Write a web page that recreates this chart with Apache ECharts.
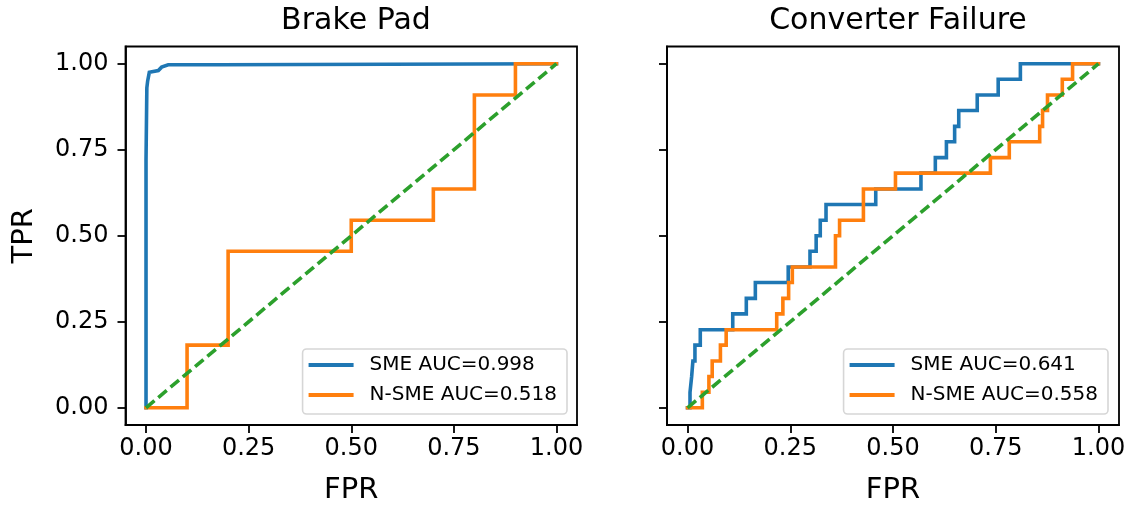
<!DOCTYPE html>
<html>
<head>
<meta charset="utf-8">
<script src="https://cdn.jsdelivr.net/npm/echarts@6/dist/echarts.min.js"></script>
<style>
html,body{margin:0;padding:0;background:#fff;}
#chart{width:1129px;height:506px;}
</style>
</head>
<body>
<div id="chart"></div>
<script>
// ---- Data ----
const panelTitles = ['Brake Pad', 'Converter Failure'];
const tickValues = [0, 0.25, 0.5, 0.75, 1.0];
const tickLabels = ['0.00', '0.25', '0.50', '0.75', '1.00'];

// Brake Pad - SME (AUC=0.998)
const brakeSmeFpr = [0, 0, 0.002, 0.002, 0.004, 0.008, 0.008, 0.030, 0.038, 0.054, 0.180, 0.180, 1];
const brakeSmeTpr = [0, 0.72, 0.72, 0.93, 0.95, 0.975, 0.98, 0.98, 0.99, 0.997, 0.997, 1, 1];
// Brake Pad - N-SME (AUC=0.518)
const brakeNsmeFpr = [0, 0.1, 0.1, 0.2, 0.2, 0.5, 0.5, 0.7, 0.7, 0.8, 0.8, 0.9, 0.9, 1];
const brakeNsmeTpr = [0, 0, 0.182, 0.182, 0.455, 0.455, 0.545, 0.545, 0.636, 0.636, 0.909, 0.909, 1, 1];

// Converter Failure - SME (AUC=0.641)
const convSmeFpr = [0, 0.006, 0.006, 0.010, 0.010, 0.013, 0.013, 0.018, 0.018, 0.031, 0.031, 0.110, 0.110, 0.143, 0.143, 0.165, 0.165, 0.245, 0.245, 0.298, 0.298, 0.313, 0.313, 0.323, 0.323, 0.337, 0.337, 0.458, 0.458, 0.568, 0.568, 0.603, 0.603, 0.630, 0.630, 0.650, 0.650, 0.660, 0.660, 0.705, 0.705, 0.756, 0.756, 0.810, 0.810, 1];
const convSmeTpr = [0, 0, 0.045, 0.045, 0.091, 0.091, 0.136, 0.136, 0.182, 0.182, 0.227, 0.227, 0.273, 0.273, 0.318, 0.318, 0.364, 0.364, 0.409, 0.409, 0.455, 0.455, 0.5, 0.5, 0.545, 0.545, 0.591, 0.591, 0.636, 0.636, 0.682, 0.682, 0.727, 0.727, 0.773, 0.773, 0.818, 0.818, 0.864, 0.864, 0.909, 0.909, 0.955, 0.955, 1, 1];
// Converter Failure - N-SME (AUC=0.558)
const convNsmeFpr = [0, 0.036, 0.036, 0.052, 0.052, 0.060, 0.060, 0.080, 0.080, 0.094, 0.094, 0.217, 0.217, 0.232, 0.232, 0.246, 0.246, 0.255, 0.255, 0.360, 0.360, 0.370, 0.370, 0.428, 0.428, 0.506, 0.506, 0.737, 0.737, 0.783, 0.783, 0.857, 0.857, 0.864, 0.864, 0.876, 0.876, 0.912, 0.912, 0.937, 0.937, 1];
const convNsmeTpr = [0, 0, 0.045, 0.045, 0.091, 0.091, 0.136, 0.136, 0.182, 0.182, 0.227, 0.227, 0.273, 0.273, 0.318, 0.318, 0.364, 0.364, 0.409, 0.409, 0.5, 0.5, 0.545, 0.545, 0.636, 0.636, 0.682, 0.682, 0.727, 0.727, 0.773, 0.773, 0.818, 0.818, 0.864, 0.864, 0.909, 0.909, 0.955, 0.955, 1, 1];

// Chance diagonal
const diagFpr = [0, 1];
const diagTpr = [0, 1];

const seriesNames = [
  ['SME AUC=0.998', 'N-SME AUC=0.518'],
  ['SME AUC=0.641', 'N-SME AUC=0.558']
];

// ---- Build ----
const FONT = 'DejaVu Sans';
const zip = (a, b) => a.map((v, i) => [v, b[i]]);
const C_BLUE = '#1f77b4', C_ORANGE = '#ff7f0e', C_GREEN = '#2ca02c';
const LW = 3.6;

const grids = [
  {left: 125.5, top: 46.5, width: 451.5, height: 378.5},
  {left: 667, top: 46.5, width: 452, height: 378.5}
];

const fmt = v => tickLabels[tickValues.findIndex(t => Math.abs(t - v) < 1e-9)] ?? '';

function xAxis(idx) {
  return {
    type: 'value', gridIndex: idx, min: -0.05, max: 1.05,
    name: 'FPR', nameLocation: 'middle', nameGap: 51,
    nameTextStyle: {fontFamily: FONT, fontSize: 29, color: '#000'},
    axisLine: {show: true, onZero: false, lineStyle: {color: '#000', width: 1.8}},
    axisTick: {show: true, length: 8, customValues: tickValues, lineStyle: {color: '#000', width: 1.8}},
    axisLabel: {show: true, margin: 12, customValues: tickValues, formatter: fmt,
      fontFamily: FONT, fontSize: 24, color: '#000'},
    splitLine: {show: false}
  };
}
function yAxis(idx, showLabels) {
  return {
    type: 'value', gridIndex: idx, min: -0.05, max: 1.05,
    name: showLabels ? 'TPR' : '', nameLocation: 'middle', nameGap: 87,
    nameTextStyle: {fontFamily: FONT, fontSize: 29, color: '#000'},
    axisLine: {show: true, onZero: false, lineStyle: {color: '#000', width: 1.8}},
    axisTick: {show: true, length: 8, customValues: tickValues, lineStyle: {color: '#000', width: 1.8}},
    axisLabel: {show: showLabels, margin: 17, customValues: tickValues, formatter: fmt,
      fontFamily: FONT, fontSize: 24, color: '#000'},
    splitLine: {show: false}
  };
}
function lineSeries(name, idx, data, color, dashed) {
  return {
    type: 'line', name: name, xAxisIndex: idx, yAxisIndex: idx,
    data: data, showSymbol: false, symbol: 'none', silent: true,
    lineStyle: {color: color, width: LW, type: dashed ? [11, 5] : 'solid', join: 'miter', cap: dashed ? 'butt' : 'square'},
    itemStyle: {color: color},
    z: dashed ? 4 : 3
  };
}

const series = [
  lineSeries(seriesNames[0][0], 0, zip(brakeSmeFpr, brakeSmeTpr), C_BLUE, false),
  lineSeries(seriesNames[0][1], 0, zip(brakeNsmeFpr, brakeNsmeTpr), C_ORANGE, false),
  lineSeries('diag0', 0, zip(diagFpr, diagTpr), C_GREEN, true),
  lineSeries(seriesNames[1][0], 1, zip(convSmeFpr, convSmeTpr), C_BLUE, false),
  lineSeries(seriesNames[1][1], 1, zip(convNsmeFpr, convNsmeTpr), C_ORANGE, false),
  lineSeries('diag1', 1, zip(diagFpr, diagTpr), C_GREEN, true)
];

// legend icon: 45px line segment followed by blank space before the label
const legendIcon = 'path://M0,0H45V4H0Z M55.99,0H56V0.01Z';

function legend(idx, right) {
  return {
    data: seriesNames[idx], orient: 'vertical', right: right, top: 349,
    icon: legendIcon, itemWidth: 56, itemHeight: 4, itemGap: 10,
    padding: [6, 10, 9, 6],
    backgroundColor: '#fff', borderColor: '#d6d6d6', borderWidth: 1.6, borderRadius: 4,
    selectedMode: false,
    textStyle: {fontFamily: FONT, fontSize: 20, color: '#000'}
  };
}

const option = {
  animation: false,
  backgroundColor: '#fff',
  title: panelTitles.map((t, i) => ({
    text: t, left: i === 0 ? 351 : 893, top: 1, textAlign: 'center',
    textStyle: {fontFamily: FONT, fontSize: 30, fontWeight: 'normal', color: '#000'}
  })),
  grid: grids.map(g => Object.assign({show: true, borderColor: '#000', borderWidth: 1.8,
    backgroundColor: 'transparent', containLabel: false, outerBoundsMode: 'none'}, g)),
  xAxis: [xAxis(0), xAxis(1)],
  yAxis: [yAxis(0, true), yAxis(1, false)],
  legend: [legend(0, 562), legend(1, 21)],
  series: series
};

const chart = echarts.init(document.getElementById('chart'), null, {renderer: 'canvas'});
chart.setOption(option);
</script>
</body>
</html>
